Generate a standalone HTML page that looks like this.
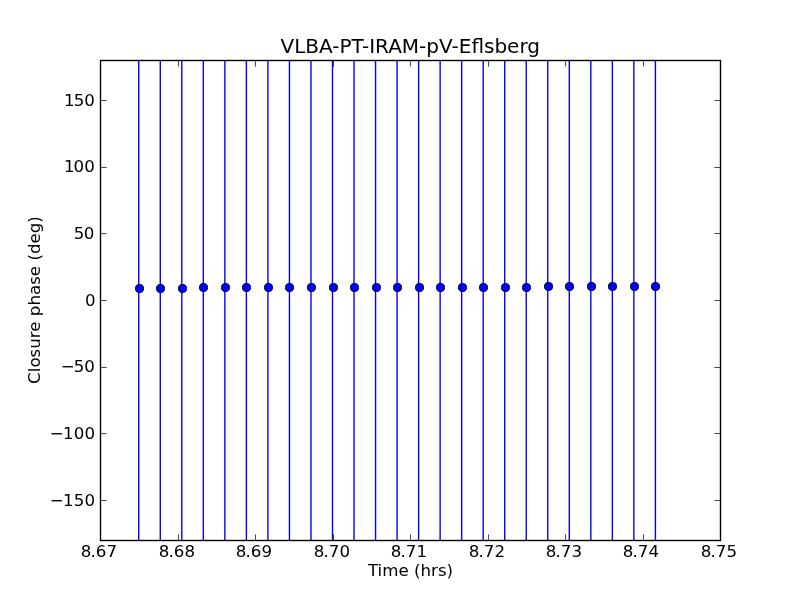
<!DOCTYPE html>
<html lang="en">
<head>
<meta charset="utf-8">
<title>VLBA-PT-IRAM-pV-Eflsberg</title>
<style>
html,body{margin:0;padding:0;background:#fff;}
body{width:800px;height:600px;overflow:hidden;}
svg{display:block;will-change:transform;}
text{font-family:"DejaVu Sans","Liberation Sans",sans-serif;fill:#000;}
.tick{font-size:16.67px;}
.lab{font-size:16.67px;}
.title{font-size:20px;}
</style>
</head>
<body>
<svg width="800" height="600" viewBox="0 0 800 600">
<rect x="0" y="0" width="800" height="600" fill="#ffffff"/>

<g stroke="#0000ff" stroke-width="1.39" fill="none">
<line x1="138.75" y1="60.5" x2="138.75" y2="540.5"/>
<line x1="160.28" y1="60.5" x2="160.28" y2="540.5"/>
<line x1="181.81" y1="60.5" x2="181.81" y2="540.5"/>
<line x1="203.33" y1="60.5" x2="203.33" y2="540.5"/>
<line x1="224.86" y1="60.5" x2="224.86" y2="540.5"/>
<line x1="246.39" y1="60.5" x2="246.39" y2="540.5"/>
<line x1="267.92" y1="60.5" x2="267.92" y2="540.5"/>
<line x1="289.44" y1="60.5" x2="289.44" y2="540.5"/>
<line x1="310.97" y1="60.5" x2="310.97" y2="540.5"/>
<line x1="332.50" y1="60.5" x2="332.50" y2="540.5"/>
<line x1="354.03" y1="60.5" x2="354.03" y2="540.5"/>
<line x1="375.56" y1="60.5" x2="375.56" y2="540.5"/>
<line x1="397.08" y1="60.5" x2="397.08" y2="540.5"/>
<line x1="418.61" y1="60.5" x2="418.61" y2="540.5"/>
<line x1="440.14" y1="60.5" x2="440.14" y2="540.5"/>
<line x1="461.67" y1="60.5" x2="461.67" y2="540.5"/>
<line x1="483.19" y1="60.5" x2="483.19" y2="540.5"/>
<line x1="504.72" y1="60.5" x2="504.72" y2="540.5"/>
<line x1="526.25" y1="60.5" x2="526.25" y2="540.5"/>
<line x1="547.78" y1="60.5" x2="547.78" y2="540.5"/>
<line x1="569.31" y1="60.5" x2="569.31" y2="540.5"/>
<line x1="590.83" y1="60.5" x2="590.83" y2="540.5"/>
<line x1="612.36" y1="60.5" x2="612.36" y2="540.5"/>
<line x1="633.89" y1="60.5" x2="633.89" y2="540.5"/>
<line x1="655.42" y1="60.5" x2="655.42" y2="540.5"/>
</g>
<g fill="#0000ff" stroke="#000000" stroke-width="0.9">
<path transform="translate(139.5,288.5)" d="M0,-4.05 C2.83,-4.05 4.05,-2.83 4.05,0 C4.05,2.83 2.83,4.05 0,4.05 C-2.83,4.05 -4.05,2.83 -4.05,0 C-4.05,-2.83 -2.83,-4.05 0,-4.05Z"/>
<path transform="translate(160.5,288.5)" d="M0,-4.05 C2.83,-4.05 4.05,-2.83 4.05,0 C4.05,2.83 2.83,4.05 0,4.05 C-2.83,4.05 -4.05,2.83 -4.05,0 C-4.05,-2.83 -2.83,-4.05 0,-4.05Z"/>
<path transform="translate(182.5,288.5)" d="M0,-4.05 C2.83,-4.05 4.05,-2.83 4.05,0 C4.05,2.83 2.83,4.05 0,4.05 C-2.83,4.05 -4.05,2.83 -4.05,0 C-4.05,-2.83 -2.83,-4.05 0,-4.05Z"/>
<path transform="translate(203.5,287.5)" d="M0,-4.05 C2.83,-4.05 4.05,-2.83 4.05,0 C4.05,2.83 2.83,4.05 0,4.05 C-2.83,4.05 -4.05,2.83 -4.05,0 C-4.05,-2.83 -2.83,-4.05 0,-4.05Z"/>
<path transform="translate(225.5,287.5)" d="M0,-4.05 C2.83,-4.05 4.05,-2.83 4.05,0 C4.05,2.83 2.83,4.05 0,4.05 C-2.83,4.05 -4.05,2.83 -4.05,0 C-4.05,-2.83 -2.83,-4.05 0,-4.05Z"/>
<path transform="translate(246.5,287.5)" d="M0,-4.05 C2.83,-4.05 4.05,-2.83 4.05,0 C4.05,2.83 2.83,4.05 0,4.05 C-2.83,4.05 -4.05,2.83 -4.05,0 C-4.05,-2.83 -2.83,-4.05 0,-4.05Z"/>
<path transform="translate(268.5,287.5)" d="M0,-4.05 C2.83,-4.05 4.05,-2.83 4.05,0 C4.05,2.83 2.83,4.05 0,4.05 C-2.83,4.05 -4.05,2.83 -4.05,0 C-4.05,-2.83 -2.83,-4.05 0,-4.05Z"/>
<path transform="translate(289.5,287.5)" d="M0,-4.05 C2.83,-4.05 4.05,-2.83 4.05,0 C4.05,2.83 2.83,4.05 0,4.05 C-2.83,4.05 -4.05,2.83 -4.05,0 C-4.05,-2.83 -2.83,-4.05 0,-4.05Z"/>
<path transform="translate(311.5,287.5)" d="M0,-4.05 C2.83,-4.05 4.05,-2.83 4.05,0 C4.05,2.83 2.83,4.05 0,4.05 C-2.83,4.05 -4.05,2.83 -4.05,0 C-4.05,-2.83 -2.83,-4.05 0,-4.05Z"/>
<path transform="translate(333.5,287.5)" d="M0,-4.05 C2.83,-4.05 4.05,-2.83 4.05,0 C4.05,2.83 2.83,4.05 0,4.05 C-2.83,4.05 -4.05,2.83 -4.05,0 C-4.05,-2.83 -2.83,-4.05 0,-4.05Z"/>
<path transform="translate(354.5,287.5)" d="M0,-4.05 C2.83,-4.05 4.05,-2.83 4.05,0 C4.05,2.83 2.83,4.05 0,4.05 C-2.83,4.05 -4.05,2.83 -4.05,0 C-4.05,-2.83 -2.83,-4.05 0,-4.05Z"/>
<path transform="translate(376.5,287.5)" d="M0,-4.05 C2.83,-4.05 4.05,-2.83 4.05,0 C4.05,2.83 2.83,4.05 0,4.05 C-2.83,4.05 -4.05,2.83 -4.05,0 C-4.05,-2.83 -2.83,-4.05 0,-4.05Z"/>
<path transform="translate(397.5,287.5)" d="M0,-4.05 C2.83,-4.05 4.05,-2.83 4.05,0 C4.05,2.83 2.83,4.05 0,4.05 C-2.83,4.05 -4.05,2.83 -4.05,0 C-4.05,-2.83 -2.83,-4.05 0,-4.05Z"/>
<path transform="translate(419.5,287.5)" d="M0,-4.05 C2.83,-4.05 4.05,-2.83 4.05,0 C4.05,2.83 2.83,4.05 0,4.05 C-2.83,4.05 -4.05,2.83 -4.05,0 C-4.05,-2.83 -2.83,-4.05 0,-4.05Z"/>
<path transform="translate(440.5,287.5)" d="M0,-4.05 C2.83,-4.05 4.05,-2.83 4.05,0 C4.05,2.83 2.83,4.05 0,4.05 C-2.83,4.05 -4.05,2.83 -4.05,0 C-4.05,-2.83 -2.83,-4.05 0,-4.05Z"/>
<path transform="translate(462.5,287.5)" d="M0,-4.05 C2.83,-4.05 4.05,-2.83 4.05,0 C4.05,2.83 2.83,4.05 0,4.05 C-2.83,4.05 -4.05,2.83 -4.05,0 C-4.05,-2.83 -2.83,-4.05 0,-4.05Z"/>
<path transform="translate(483.5,287.5)" d="M0,-4.05 C2.83,-4.05 4.05,-2.83 4.05,0 C4.05,2.83 2.83,4.05 0,4.05 C-2.83,4.05 -4.05,2.83 -4.05,0 C-4.05,-2.83 -2.83,-4.05 0,-4.05Z"/>
<path transform="translate(505.5,287.5)" d="M0,-4.05 C2.83,-4.05 4.05,-2.83 4.05,0 C4.05,2.83 2.83,4.05 0,4.05 C-2.83,4.05 -4.05,2.83 -4.05,0 C-4.05,-2.83 -2.83,-4.05 0,-4.05Z"/>
<path transform="translate(526.5,287.5)" d="M0,-4.05 C2.83,-4.05 4.05,-2.83 4.05,0 C4.05,2.83 2.83,4.05 0,4.05 C-2.83,4.05 -4.05,2.83 -4.05,0 C-4.05,-2.83 -2.83,-4.05 0,-4.05Z"/>
<path transform="translate(548.5,286.5)" d="M0,-4.05 C2.83,-4.05 4.05,-2.83 4.05,0 C4.05,2.83 2.83,4.05 0,4.05 C-2.83,4.05 -4.05,2.83 -4.05,0 C-4.05,-2.83 -2.83,-4.05 0,-4.05Z"/>
<path transform="translate(569.5,286.5)" d="M0,-4.05 C2.83,-4.05 4.05,-2.83 4.05,0 C4.05,2.83 2.83,4.05 0,4.05 C-2.83,4.05 -4.05,2.83 -4.05,0 C-4.05,-2.83 -2.83,-4.05 0,-4.05Z"/>
<path transform="translate(591.5,286.5)" d="M0,-4.05 C2.83,-4.05 4.05,-2.83 4.05,0 C4.05,2.83 2.83,4.05 0,4.05 C-2.83,4.05 -4.05,2.83 -4.05,0 C-4.05,-2.83 -2.83,-4.05 0,-4.05Z"/>
<path transform="translate(612.5,286.5)" d="M0,-4.05 C2.83,-4.05 4.05,-2.83 4.05,0 C4.05,2.83 2.83,4.05 0,4.05 C-2.83,4.05 -4.05,2.83 -4.05,0 C-4.05,-2.83 -2.83,-4.05 0,-4.05Z"/>
<path transform="translate(634.5,286.5)" d="M0,-4.05 C2.83,-4.05 4.05,-2.83 4.05,0 C4.05,2.83 2.83,4.05 0,4.05 C-2.83,4.05 -4.05,2.83 -4.05,0 C-4.05,-2.83 -2.83,-4.05 0,-4.05Z"/>
<path transform="translate(655.5,286.5)" d="M0,-4.05 C2.83,-4.05 4.05,-2.83 4.05,0 C4.05,2.83 2.83,4.05 0,4.05 C-2.83,4.05 -4.05,2.83 -4.05,0 C-4.05,-2.83 -2.83,-4.05 0,-4.05Z"/>
</g>
<g stroke="#000000" stroke-width="0.69" fill="none">
<line x1="100.5" y1="540.5" x2="100.5" y2="534.3"/>
<line x1="100.5" y1="60.5" x2="100.5" y2="66.7"/>
<line x1="178.5" y1="540.5" x2="178.5" y2="534.3"/>
<line x1="178.5" y1="60.5" x2="178.5" y2="66.7"/>
<line x1="255.5" y1="540.5" x2="255.5" y2="534.3"/>
<line x1="255.5" y1="60.5" x2="255.5" y2="66.7"/>
<line x1="333.5" y1="540.5" x2="333.5" y2="534.3"/>
<line x1="333.5" y1="60.5" x2="333.5" y2="66.7"/>
<line x1="410.5" y1="540.5" x2="410.5" y2="534.3"/>
<line x1="410.5" y1="60.5" x2="410.5" y2="66.7"/>
<line x1="488.5" y1="540.5" x2="488.5" y2="534.3"/>
<line x1="488.5" y1="60.5" x2="488.5" y2="66.7"/>
<line x1="565.5" y1="540.5" x2="565.5" y2="534.3"/>
<line x1="565.5" y1="60.5" x2="565.5" y2="66.7"/>
<line x1="643.5" y1="540.5" x2="643.5" y2="534.3"/>
<line x1="643.5" y1="60.5" x2="643.5" y2="66.7"/>
<line x1="720.5" y1="540.5" x2="720.5" y2="534.3"/>
<line x1="720.5" y1="60.5" x2="720.5" y2="66.7"/>
<line x1="100.5" y1="100.5" x2="106.7" y2="100.5"/>
<line x1="720.5" y1="100.5" x2="714.3" y2="100.5"/>
<line x1="100.5" y1="167.5" x2="106.7" y2="167.5"/>
<line x1="720.5" y1="167.5" x2="714.3" y2="167.5"/>
<line x1="100.5" y1="233.5" x2="106.7" y2="233.5"/>
<line x1="720.5" y1="233.5" x2="714.3" y2="233.5"/>
<line x1="100.5" y1="300.5" x2="106.7" y2="300.5"/>
<line x1="720.5" y1="300.5" x2="714.3" y2="300.5"/>
<line x1="100.5" y1="367.5" x2="106.7" y2="367.5"/>
<line x1="720.5" y1="367.5" x2="714.3" y2="367.5"/>
<line x1="100.5" y1="433.5" x2="106.7" y2="433.5"/>
<line x1="720.5" y1="433.5" x2="714.3" y2="433.5"/>
<line x1="100.5" y1="500.5" x2="106.7" y2="500.5"/>
<line x1="720.5" y1="500.5" x2="714.3" y2="500.5"/>
</g>
<rect x="100.5" y="60.5" width="620" height="480" fill="none" stroke="#000000" stroke-width="1.39"/>
<g class="tick">
<text x="80.72 90.42 95.67 106.42" y="557">8.67</text>
<text x="158.72 168.42 173.67 184.42" y="557">8.68</text>
<text x="235.72 245.42 250.67 261.42" y="557">8.69</text>
<text x="313.72 323.42 328.67 339.42" y="557">8.70</text>
<text x="390.72 400.42 405.67 416.42" y="557">8.71</text>
<text x="468.72 478.42 483.67 494.42" y="557">8.72</text>
<text x="545.72 555.42 560.67 571.42" y="557">8.73</text>
<text x="622.77 632.47 637.72 648.47" y="557">8.74</text>
<text x="700.72 710.42 715.67 726.42" y="557">8.75</text>
</g>
<g class="tick">
<text x="63.96 73.69 84.33" y="106">150</text>
<text x="63.96 73.49 84.33" y="172">100</text>
<text x="73.69 83.70" y="239">50</text>
<text x="85.10" y="306">0</text>
<text x="60.84 73.69 84.33" y="372">−50</text>
<text x="49.83 63.02 73.76 84.38" y="439">−100</text>
<text x="49.83 63.02 73.74 84.38" y="506">−150</text>
</g>
<text class="lab" text-anchor="middle" x="410.5" y="576">Time (hrs)</text>
<text class="lab" text-anchor="middle" transform="translate(39.7,300.05) rotate(-90)">Closure phase (deg)</text>
<text class="title" text-anchor="middle" x="410.25" y="53">VLBA-PT-IRAM-pV-Eflsberg</text>
</svg>
</body>
</html>
